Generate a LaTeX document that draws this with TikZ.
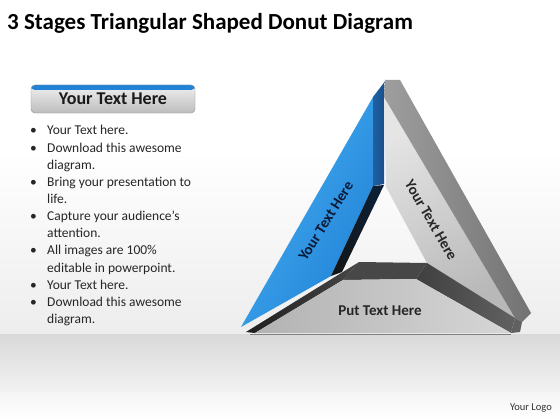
\documentclass[tikz,border=0pt]{standalone}
\usepackage{fontspec}
\setmainfont{Carlito}
\usetikzlibrary{positioning}

\definecolor{blueLight}{RGB}{70,176,244}
\definecolor{blueMid}{RGB}{34,130,214}
\definecolor{blueDark}{RGB}{30,96,166}
\definecolor{navyTxt}{RGB}{12,26,54}

\begin{document}
\begin{tikzpicture}[x=1pt, y=-1pt,
    bullet/.style={anchor=base west, inner sep=0pt, font=\fontsize{13.5}{15}\selectfont, text=black!85},
    label3d/.style={font=\bfseries\fontsize{15}{17}\selectfont, text=black!85, inner sep=0pt},
    hdrbox/.style={rounded corners=4pt, draw=black!45, minimum width=164pt, minimum height=28pt,
        top color=black!6, bottom color=black!26, font=\bfseries\fontsize{18}{20}\selectfont, text=black!90,
        path picture={\fill[blueMid] (path picture bounding box.north west) rectangle ([yshift=-5pt]path picture bounding box.north east);}}]
    \useasboundingbox (0,0) rectangle (560,420);
    % background and floor
    \fill[white] (0,0) rectangle (560,150);
    \shade[top color=white, bottom color=black!7] (0,150) rectangle (560,334);
    \shade[top color=black!15, bottom color=black!5] (0,334) rectangle (560,392);
    \shade[top color=black!4, bottom color=white] (0,392) rectangle (560,420);

    \node[anchor=base west, inner sep=0pt, font=\bfseries\fontsize{23}{26}\selectfont] (title) at (7,30) {3 Stages Triangular Shaped Donut Diagram};

    % left text panel
    \node[hdrbox] (hdr) at (113,99) {Your Text Here};
    \foreach \yy in {135,152,186,220,254,289,306}
        \node[bullet] at (30,\yy) {•};
    \foreach \yy/\t in {135/Your Text here., 152/Download this awesome, 169/diagram.,
        186/Bring your presentation to, 203/life., 220/Capture your audience’s, 237/attention.,
        254/All images are 100\%, 272/editable in powerpoint., 289/Your Text here.,
        306/Download this awesome, 323/diagram.}
        \node[bullet] at (47,\yy) {\t};

    % blue piece
    \coordinate (bTip) at (241,327);
    \coordinate (bTop) at (373,97);
    \coordinate (bApex) at (386,80);
    \coordinate (bIn) at (373,186);
    \coordinate (bLow) at (331,276);
    \shade[left color=blueLight, right color=blueMid, shading angle=60] (bTip) -- (bTop) -- (bIn) -- (bLow) -- cycle;
    \shade[left color=blueDark, right color=blueDark!80!black] (bTop) -- (bApex) -- (384,84) -- (384,184) -- (bIn) -- cycle;
    \shade[left color=black!92, right color=blueDark!35!black] (bIn) -- (384,185) -- (342,272) -- (bLow) -- cycle;

    % right piece
    \coordinate (rTop) at (384,97);
    \coordinate (rIn) at (386,187);
    \coordinate (rLow) at (427,263);
    \coordinate (rBot) at (515,318);
    \shade[left color=black!10, right color=black!28, shading angle=30] (rTop) -- (rIn) -- (rLow) -- (rBot) -- cycle;
    \shade[left color=black!38, right color=black!55] (rTop) -- (385,80) -- (400,80) -- (531,313) -- (522,322) -- (rBot) -- cycle;
    \fill[black!62] (rBot) -- (522,322) -- (520,332) -- (511,333) -- cycle;
    \shade[left color=black!75, right color=black!62] (416,279) -- (rLow) -- (rBot) -- (511,333) -- cycle;

    % bottom piece
    \coordinate (pLeft) at (343,280);
    \coordinate (pRight) at (416,279);
    \fill[black!72] (pLeft) -- (359,262) -- (rLow) -- (pRight) -- cycle;
    \shade[left color=black!88, right color=black!72] (246,332) -- (359,262) -- (pLeft) -- (255,333) -- cycle;
    \shade[left color=black!30, right color=black!16] (255,333) -- (pLeft) -- (pRight) -- (511,333) -- cycle;
    \draw[black!50, line width=1pt] (250,334) -- (511,334);

    % labels
    \node[label3d, text=navyTxt, rotate=58] (blueTxt) at (326,221) {Your Text Here};
    \node[label3d, rotate=-60] (rightTxt) at (431,220) {Your Text Here};
    \node[label3d] (botTxt) at (380,311) {Put Text Here};

    \node[anchor=base east, inner sep=0pt, font=\fontsize{10.5}{12}\selectfont, text=black!80] (logo) at (552,410) {Your Logo};
\end{tikzpicture}
\end{document}
